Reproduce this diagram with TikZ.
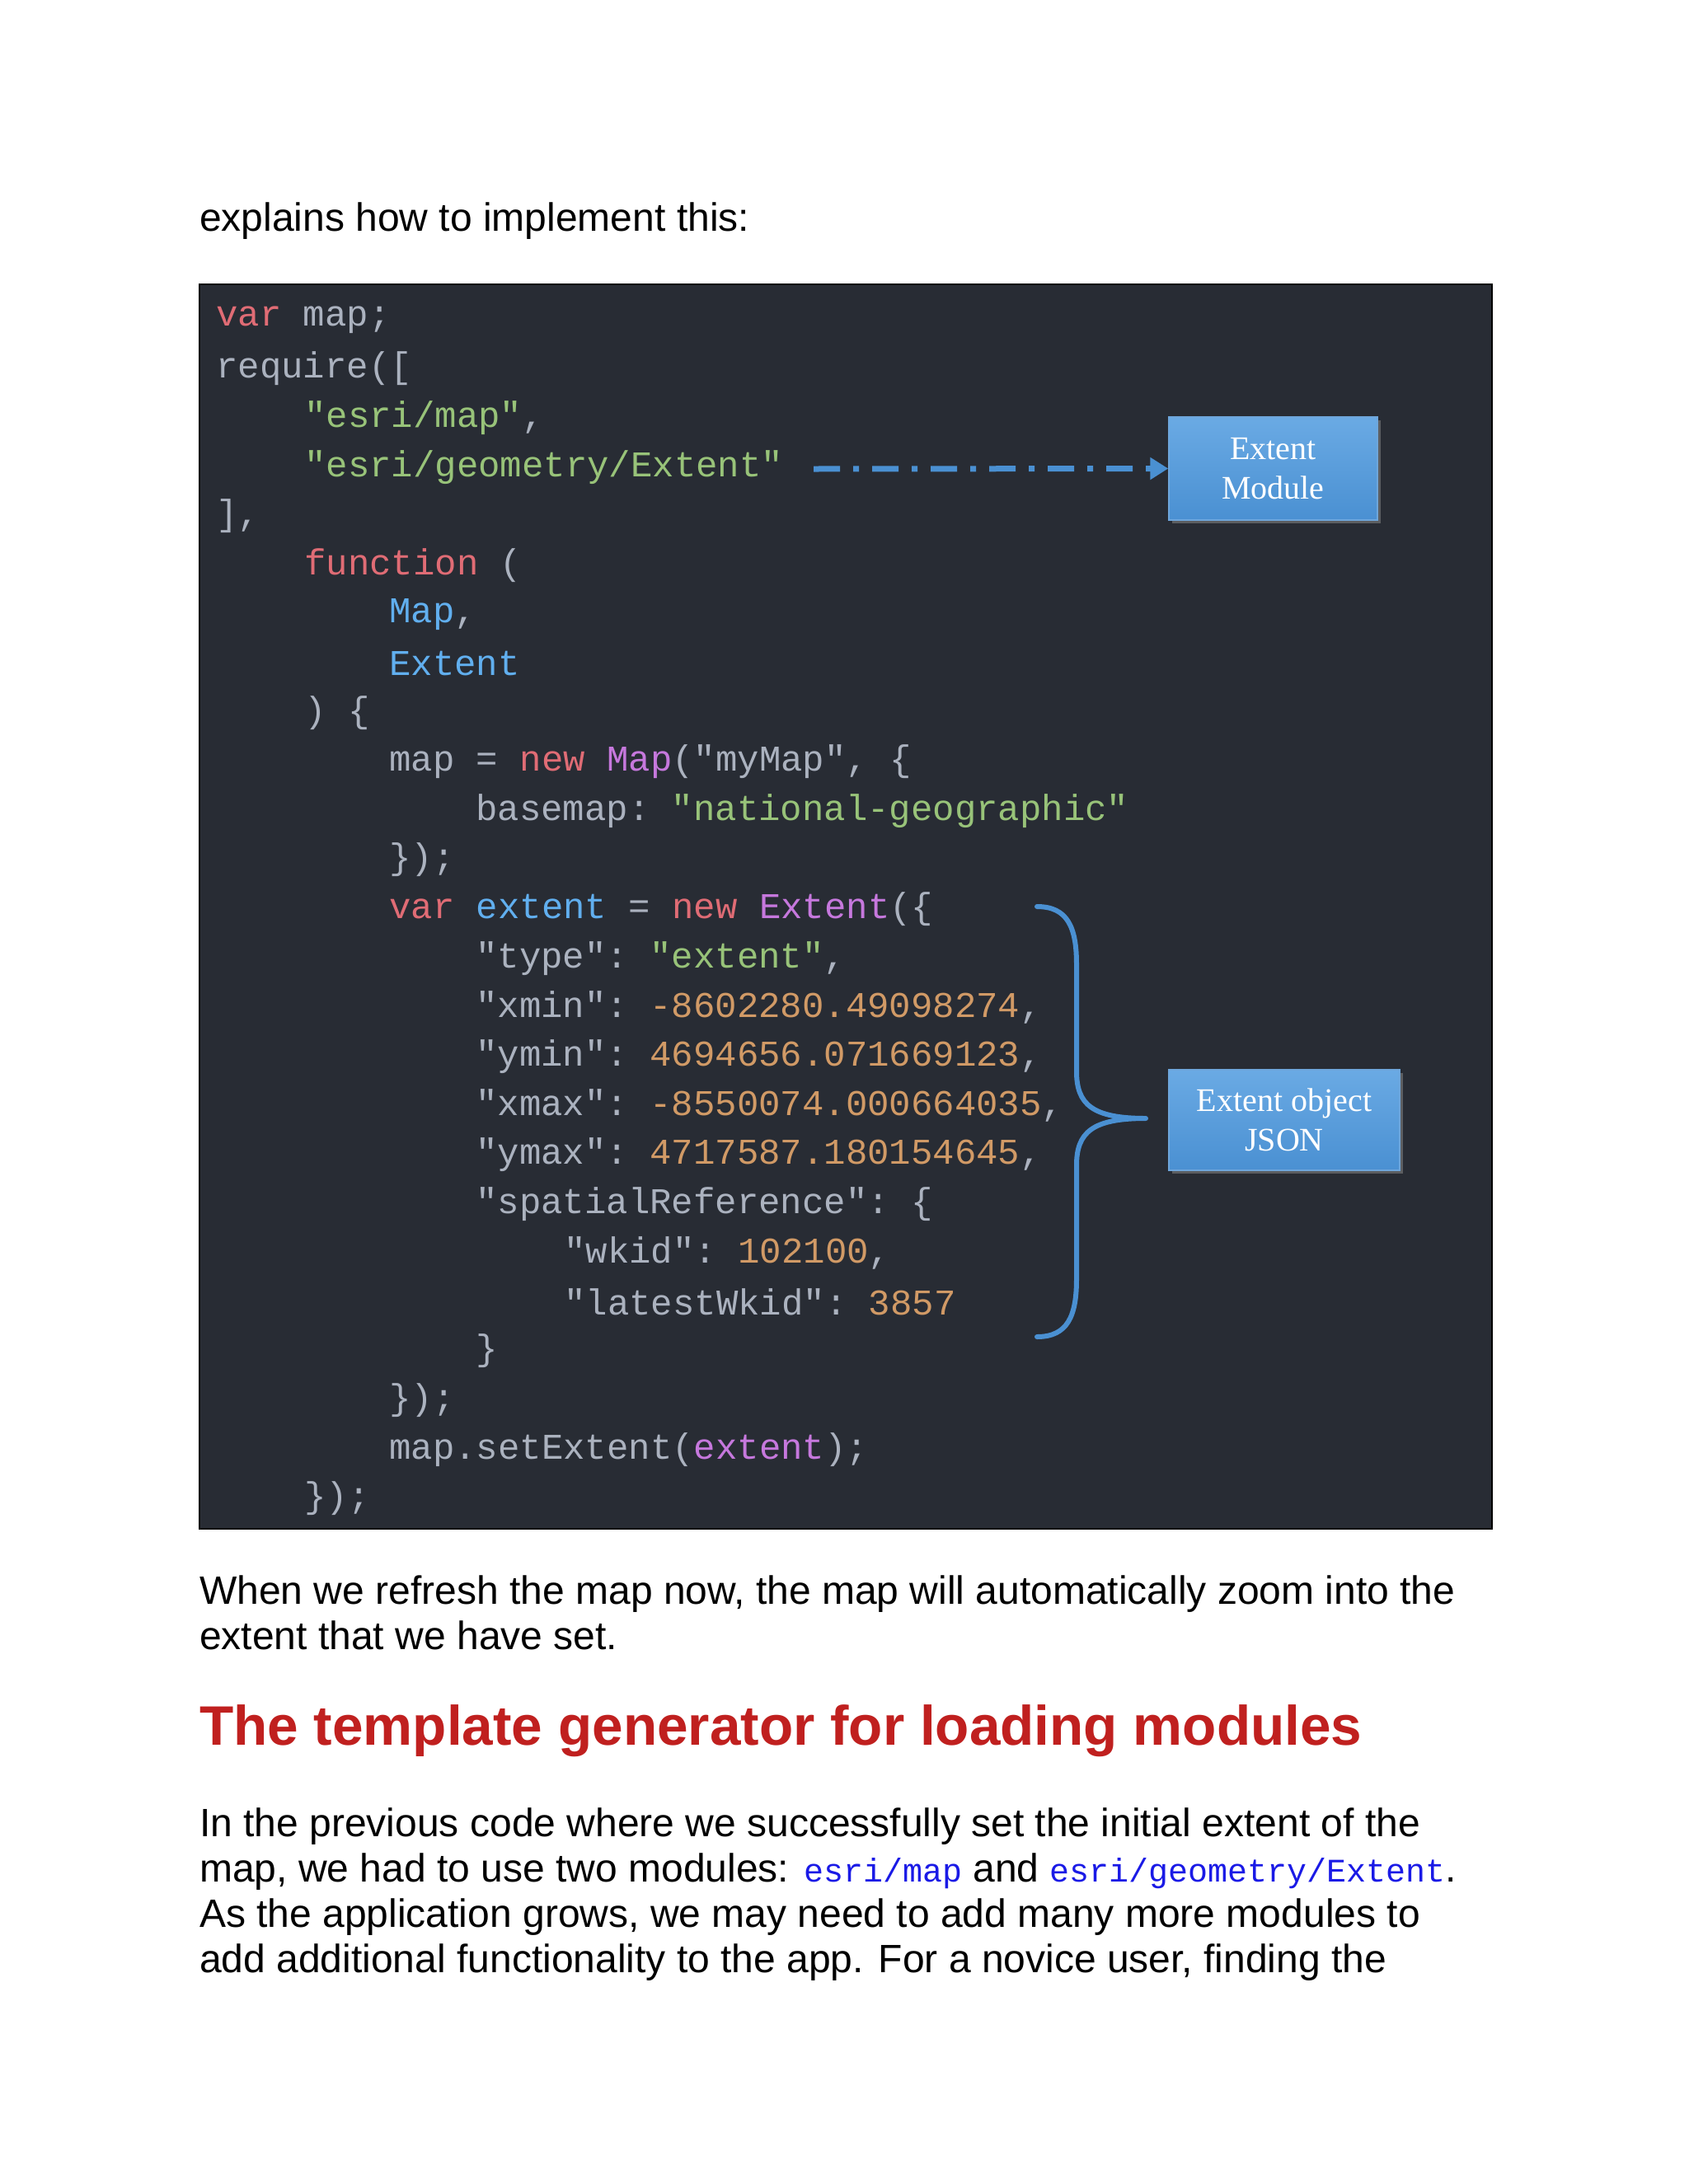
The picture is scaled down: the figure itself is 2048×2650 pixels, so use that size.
\documentclass[tikz,border=0pt]{standalone}
\usepackage{fontspec}
\setmainfont{Liberation Sans}
\setmonofont{Liberation Mono}
\newfontfamily\boxfont{Liberation Serif}
\usetikzlibrary{arrows.meta,shadows}
\definecolor{bgc}{HTML}{282C34}
\definecolor{cdef}{HTML}{ABB2BF}
\definecolor{ckw}{HTML}{E06C75}
\definecolor{cstr}{HTML}{98C379}
\definecolor{cblu}{HTML}{61AFEF}
\definecolor{cpur}{HTML}{C678DD}
\definecolor{cnum}{HTML}{D19A66}
\definecolor{boxblue}{HTML}{4A90D2}
\definecolor{boxtop}{HTML}{6AAAE4}
\definecolor{head}{HTML}{C0201F}
\definecolor{inl}{HTML}{1A1AE6}
\newcommand{\K}[1]{\textcolor{ckw}{#1}}
\newcommand{\Sg}[1]{\textcolor{cstr}{#1}}
\newcommand{\B}[1]{\textcolor{cblu}{#1}}
\newcommand{\Pp}[1]{\textcolor{cpur}{#1}}
\newcommand{\N}[1]{\textcolor{cnum}{#1}}
\newcommand{\IC}[1]{{\color{inl}\fontsize{40}{55}\ttfamily #1}}
\tikzset{
 code/.style={anchor=west,inner sep=0pt,text=cdef,font=\fontsize{44}{44}\ttfamily},
 body/.style={anchor=west,inner sep=0pt,font=\fontsize{48}{55}\selectfont,align=left},
 callout/.style={draw=boxblue!80!white,line width=1.5pt,top color=boxtop,bottom color=boxblue,text=white,font=\fontsize{40}{48}\boxfont,align=center,inner sep=0pt,drop shadow={shadow xshift=4pt,shadow yshift=-4pt,opacity=0.6}},
 bluel/.style={draw=boxblue,line width=6pt}
}
\begin{document}
\begin{tikzpicture}[x=1pt,y=-1pt]
\useasboundingbox[fill=white] (0,0) rectangle (2048,2650);
\node[body] (intro) at (242,268) {explains how to implement this:};
\fill[bgc,draw=black,line width=2pt] (242,345) rectangle (1810,1855);
\def\L{59.6}
\node[code] (l1) at (262,388) {\K{var} map;};
\node[code] (l2) at (262,{388+1*\L}) {require([};
\node[code] (l3) at (369,{388+2*\L}) {\Sg{"esri/map"},};
\node[code] (l4) at (369,{388+3*\L}) {\Sg{"esri/geometry/Extent"}};
\node[code] (l5) at (262,{388+4*\L}) {],};
\node[code] (l6) at (369,{388+5*\L}) {\K{function} (};
\node[code] (l7) at (472,{388+6*\L}) {\B{Map},};
\node[code] (l8) at (472,{388+7*\L}) {\B{Extent}};
\node[code] (l9) at (369,{388+8*\L}) {) \{};
\node[code] (l10) at (472,{388+9*\L}) {map = \K{new} \Pp{Map}("myMap", \{};
\node[code] (l11) at (577,{388+10*\L}) {basemap: \Sg{"national-geographic"}};
\node[code] (l12) at (472,{388+11*\L}) {\});};
\node[code] (l13) at (472,{388+12*\L}) {\K{var} \B{extent} = \K{new} \Pp{Extent}(\{};
\node[code] (l14) at (577,{388+13*\L}) {"type": \Sg{"extent"},};
\node[code] (l15) at (577,{388+14*\L}) {"xmin": \N{-8602280.49098274},};
\node[code] (l16) at (577,{388+15*\L}) {"ymin": \N{4694656.071669123},};
\node[code] (l17) at (577,{388+16*\L}) {"xmax": \N{-8550074.000664035},};
\node[code] (l18) at (577,{388+17*\L}) {"ymax": \N{4717587.180154645},};
\node[code] (l19) at (577,{388+18*\L}) {"spatialReference": \{};
\node[code] (l20) at (684,{388+19*\L}) {"wkid": \N{102100},};
\node[code] (l21) at (684,{388+20*\L}) {"latestWkid": \N{3857}};
\node[code] (l22) at (577,{388+21*\L}) {\}};
\node[code] (l23) at (472,{388+22*\L}) {\});};
\node[code] (l24) at (472,{388+23*\L}) {map.setExtent(\Pp{extent});};
\node[code] (l25) at (369,{388+24*\L}) {\});};
\node[callout,minimum width=253pt,minimum height=125pt] (em) at (1544.5,568.5) {Extent\\Module};
\node[callout,minimum width=280pt,minimum height=122pt] (ej) at (1558,1359) {Extent object\\JSON};
\draw[draw=boxblue,line width=7pt,dash pattern=on 32pt off 16pt on 7pt off 16pt,-{Triangle[length=22pt,width=26pt]}] (987,569) -- (em.west);
\coordinate (bt) at (1258,1100);
\coordinate (bb) at (1258,1622);
\coordinate (tip) at (1390,1357);
\draw[bluel,line cap=round] (bt) .. controls (1295,1100) and (1306,1125) .. (1306,1170) -- (1306,1300) .. controls (1306,1340) and (1325,1357) .. (tip)
 (tip) .. controls (1325,1357) and (1306,1374) .. (1306,1414) -- (1306,1552) .. controls (1306,1597) and (1295,1622) .. (bb);
\node[body] (p1) at (242,1957) {When we refresh the map now, the map will automatically zoom into the\\extent that we have set.};
\node[anchor=west,inner sep=0pt,text=head,font=\fontsize{67.5}{67.5}\selectfont\bfseries] (h) at (242,2100) {The template generator for loading modules};
\node[body] (p2) at (242,2299) {In the previous code where we successfully set the initial extent of the\\map, we had to use two modules: \IC{esri/map} and \IC{esri/geometry/Extent}.\\As the application grows, we may need to add many more modules to\\add additional functionality to the app. For a novice user, finding the};
\end{tikzpicture}
\end{document}
